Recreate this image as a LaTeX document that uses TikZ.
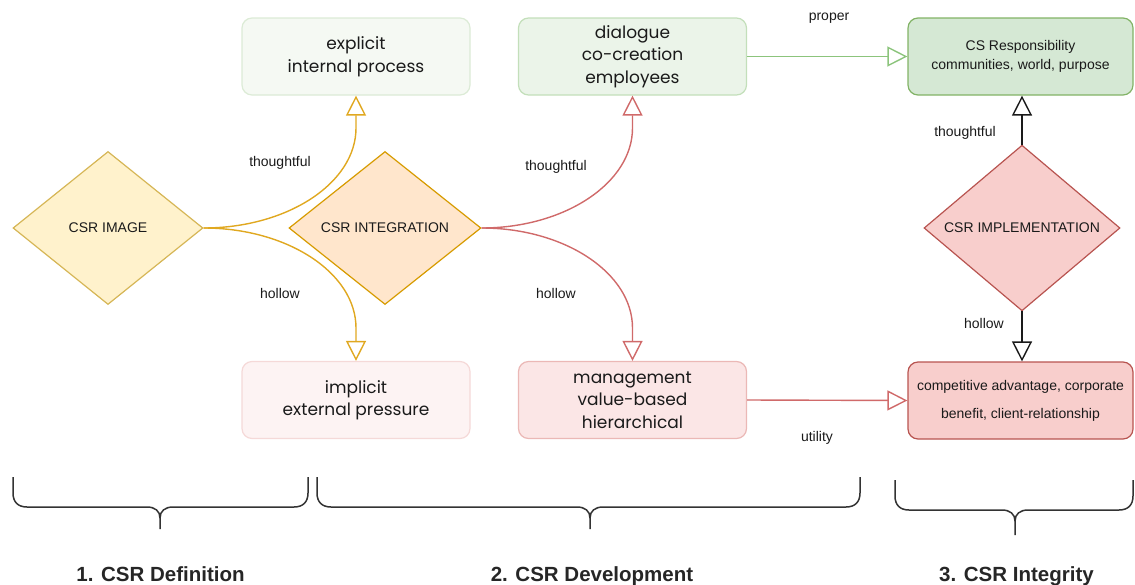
\documentclass[tikz,border=0pt]{standalone}
\usepackage{fontspec}
\setmainfont{Liberation Sans}
\newfontfamily\boxfont{Poppins}
\usetikzlibrary{shapes.geometric,arrows.meta}
\definecolor{explfill}{HTML}{F5F9F3}\definecolor{expldraw}{HTML}{DCEBD6}
\definecolor{dialfill}{HTML}{EBF4E9}\definecolor{dialdraw}{HTML}{C3DFBA}
\definecolor{csfill}{HTML}{D5E8D4}\definecolor{csdraw}{HTML}{82B366}
\definecolor{implfill}{HTML}{FDF3F3}\definecolor{impldraw}{HTML}{F5D9D8}
\definecolor{mgmtfill}{HTML}{FBE6E6}\definecolor{mgmtdraw}{HTML}{EBB8B6}
\definecolor{compfill}{HTML}{F8CECC}\definecolor{compdraw}{HTML}{B85450}
\definecolor{imgfill}{HTML}{FFF2CC}\definecolor{imgdraw}{HTML}{D6B656}
\definecolor{intfill}{HTML}{FFE6CC}\definecolor{intdraw}{HTML}{D79B00}
\definecolor{impfill}{HTML}{F8CECC}\definecolor{impdraw}{HTML}{B85450}
\definecolor{goldline}{HTML}{E0A820}
\definecolor{redline}{HTML}{D06A6A}
\definecolor{greenline}{HTML}{8CC47C}
\definecolor{bracecol}{HTML}{333333}
\definecolor{txt}{HTML}{1A1A1A}
\newcommand\mybrace[6]{%
\draw[bracestyle] (#1,#4) -- (#1,{#5-14}) .. controls (#1,{#5-5}) and ({#1+5},#5) .. ({#1+14},#5) -- ({#3-13},#5) .. controls ({#3-5},#5) and (#3,{#5+4}) .. (#3,{#5+11}) -- (#3,#6)
 (#3,{#5+11}) .. controls (#3,{#5+4}) and ({#3+5},#5) .. ({#3+13},#5) -- ({#2-14},#5) .. controls ({#2-5},#5) and (#2,{#5-5}) .. (#2,{#5-14}) -- (#2,#4);}
\begin{document}
\begin{tikzpicture}[x=1pt,y=-1pt,
  every node/.style={font=\fontsize{14}{17}\selectfont, text=txt},
  card/.style={rectangle, rounded corners=10pt, minimum width=228pt, minimum height=77pt, line width=1.2pt, align=center, inner sep=0pt},
  bigtext/.style={font=\boxfont\fontsize{17}{22.5}\selectfont},
  dia/.style={diamond, minimum height=153pt, inner sep=0pt, line width=1.2pt},
  lbl/.style={inner sep=0pt},
  ttl/.style={inner sep=0pt, anchor=base, font=\bfseries\fontsize{20.5}{24}\selectfont, text=black!85},
  hol/.style={-{Triangle[open,width=20pt,length=20pt]}},
  conn/.style={line width=1.4pt},
  bracestyle/.style={line width=1.5pt, draw=bracecol},
]
\useasboundingbox (0,0) rectangle (1135,584);
% boxes
\node[card, bigtext, fill=explfill, draw=expldraw] (expl) at (356,56.5) {explicit\\internal process};
\node[card, bigtext, fill=dialfill, draw=dialdraw] (dial) at (632.5,56.5) {dialogue\\co-creation\\employees};
\node[card, minimum width=225pt, fill=csfill, draw=csdraw, font=\fontsize{14}{19}\selectfont] (cs) at (1020.5,56.5) {CS Responsibility\\communities, world, purpose};
\node[card, bigtext, fill=implfill, draw=impldraw] (impl) at (356,400) {implicit\\external pressure};
\node[card, bigtext, fill=mgmtfill, draw=mgmtdraw] (mgmt) at (632.5,400) {management\\value-based\\hierarchical};
\node[card, minimum width=225pt, fill=compfill, draw=compdraw, font=\fontsize{14}{28}\selectfont] (comp) at (1020.5,400.5) {competitive advantage, corporate\\benefit, client-relationship};
% diamonds
\node[dia, minimum width=190pt, fill=imgfill, draw=imgdraw] (img) at (108,228) {CSR IMAGE};
\node[dia, minimum width=192pt, fill=intfill, draw=intdraw] (integ) at (385,228) {CSR INTEGRATION};
\node[dia, minimum width=196pt, fill=impfill, draw=impdraw] (imp) at (1022,228) {CSR IMPLEMENTATION};
% connectors
\draw[conn, goldline, hol] (img.east) .. controls (287.5,228) and (356,183) .. (356,128) -- (expl.south);
\draw[conn, goldline, hol] (img.east) .. controls (287.5,228) and (356,273) .. (356,328) -- (impl.north);
\draw[conn, redline, hol] (integ.east) .. controls (564.6,228) and (632.5,183) .. (632.5,128) -- (dial.south);
\draw[conn, redline, hol] (integ.east) .. controls (564.6,228) and (632.5,273) .. (632.5,328) -- (mgmt.north);
\draw[conn, greenline, hol] (dial.east) -- (cs.west);
\draw[conn, redline, hol] (mgmt.east) -- (comp.west);
\draw[conn, txt, hol] (imp.north) -- (imp.north |- cs.south);
\draw[conn, txt, hol] (imp.south) -- (imp.south |- comp.north);
% labels
\node[lbl] (l1) at (280,163) {thoughtful};
\node[lbl] (l2) at (280,293) {hollow};
\node[lbl] (l3) at (556,167) {thoughtful};
\node[lbl] (l4) at (556,293) {hollow};
\node[lbl] (l5) at (829,18) {proper};
\node[lbl] (l6) at (817,438) {utility};
\node[lbl] (l7) at (965,133) {thoughtful};
\node[lbl] (l8) at (984,323) {hollow};
% braces
\mybrace{13}{308}{160}{477}{507}{529}
\mybrace{317}{860}{590}{477}{507}{529}
\mybrace{895}{1133}{1015}{480}{510}{535}
% titles
\node[ttl] (t1) at (160.5,581) {1. CSR Definition};
\node[ttl] (t2) at (592,581) {2. CSR Development};
\node[ttl] (t3) at (1016.5,581) {3. CSR Integrity};
\end{tikzpicture}
\end{document}
